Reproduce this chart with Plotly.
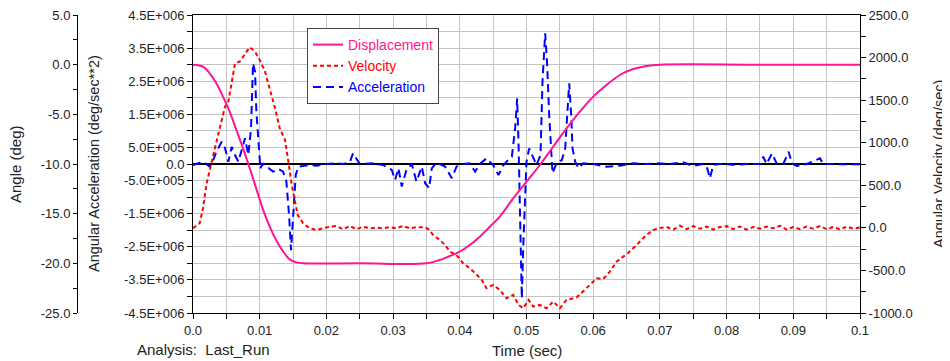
import plotly.graph_objects as go

# ---------------- data ----------------
disp_t = [0, 0.0015, 0.0025, 0.0035, 0.0045, 0.0055, 0.0065, 0.0075, 0.0083, 0.0095,
          0.0105, 0.0115, 0.0125, 0.0135, 0.0145, 0.0155, 0.0165, 0.025, 0.035, 0.037,
          0.0385, 0.04, 0.0415, 0.043, 0.0445, 0.046, 0.048, 0.05, 0.052, 0.054, 0.056,
          0.058, 0.06, 0.062, 0.064, 0.066, 0.068, 0.07, 0.085, 0.1]
disp_v = [0, -0.2, -0.87, -1.88, -3.22, -4.73, -6.58, -8.42, -10.0, -12.5,
          -14.6, -16.3, -17.7, -18.8, -19.6, -19.9, -20.0, -20.0, -20.0, -19.66,
          -19.26, -18.83, -18.16, -17.32, -16.31, -15.3, -13.46, -11.78, -10.1, -8.26, -6.41,
          -4.73, -3.22, -2.05, -1.04, -0.44, -0.13, 0.0, 0.0, 0.0]

vel_t = [0, 0.001, 0.0015, 0.002, 0.0028, 0.0035, 0.0043, 0.0048, 0.0053, 0.0058,
         0.0063, 0.007, 0.0078, 0.0085, 0.0093, 0.01, 0.0108, 0.0115, 0.0123, 0.013,
         0.0138, 0.0143, 0.0148, 0.0153, 0.0157, 0.0165, 0.0175, 0.0185, 0.0195, 0.0205,
         0.0215, 0.0225, 0.0235, 0.0245, 0.0255, 0.0265, 0.0275, 0.0285, 0.0295, 0.0305,
         0.0315, 0.0325, 0.0335, 0.0348, 0.0353, 0.036, 0.037, 0.0378, 0.0385, 0.0395,
         0.0405, 0.0415, 0.0423, 0.0433, 0.044, 0.045, 0.046, 0.047, 0.048, 0.0488,
         0.0495, 0.0503, 0.051, 0.052, 0.053, 0.054, 0.055, 0.056, 0.0575, 0.0585,
         0.0595, 0.0605, 0.0615, 0.0625, 0.0635, 0.0645, 0.0652, 0.0665, 0.068, 0.069,
         0.07, 0.071, 0.072, 0.073, 0.074, 0.075, 0.076, 0.077, 0.078, 0.079,
         0.08, 0.081, 0.082, 0.083, 0.084, 0.085, 0.086, 0.087, 0.088, 0.089,
         0.09, 0.091, 0.092, 0.093, 0.094, 0.095, 0.096, 0.097, 0.098, 0.099, 0.1]
vel_v = [-5, 54, 230, 504, 778, 1012, 1287, 1424, 1482, 1717,
         1933, 1952, 2050, 2121, 2070, 1972, 1835, 1640, 1405, 1170,
         1032, 778, 504, 308, 151, 54, -5, -25, -5, 14,
         22, -17, 22, -17, 14, -5, 2, -5, 8, -5,
         22, -5, 8, 8, -17, -83, -142, -201, -279, -318,
         -416, -474, -533, -612, -709, -670, -729, -827, -788, -905,
         -944, -846, -925, -905, -944, -866, -944, -846, -819, -749,
         -670, -592, -600, -514, -397, -338, -298, -201, -83, -25,
         0, 10, -20, 25, -15, 20, -10, 15, -20, 10,
         20, -15, 15, -20, 10, -10, 15, -5, 25, -20,
         10, -15, 15, -10, 20, -15, 10, -20, 15, -10, 5]

acc_t = [0, 0.0008, 0.0015, 0.002, 0.0025, 0.003, 0.0035, 0.0043, 0.0048, 0.0053,
         0.0058, 0.0063, 0.0068, 0.0073, 0.0078, 0.0083, 0.0087, 0.009, 0.0093, 0.0095,
         0.0099, 0.0101, 0.0105, 0.0108, 0.0113, 0.012, 0.0128, 0.0135, 0.014, 0.0144,
         0.0147, 0.015, 0.0154, 0.0158, 0.0165, 0.0175, 0.0185, 0.02, 0.0215, 0.0225,
         0.0235, 0.024, 0.025, 0.027, 0.0285, 0.0298, 0.0303, 0.0308, 0.0313, 0.032,
         0.0328, 0.0335, 0.0343, 0.0348, 0.0354, 0.0358, 0.0365, 0.0378, 0.0388, 0.0395,
         0.0405, 0.0415, 0.0423, 0.043, 0.044, 0.045, 0.0458, 0.0465, 0.047, 0.0478,
         0.0483, 0.0486, 0.0488, 0.049, 0.0493, 0.0495, 0.0498, 0.05, 0.0504, 0.051,
         0.0515, 0.0521, 0.0524, 0.0528, 0.0531, 0.0534, 0.0537, 0.0539, 0.0545, 0.0553,
         0.0558, 0.0562, 0.0564, 0.0567, 0.0569, 0.0573, 0.0578, 0.0585, 0.06, 0.062,
         0.064, 0.066, 0.068, 0.0695, 0.0715, 0.0735, 0.075, 0.0765, 0.0771, 0.0775,
         0.078, 0.079, 0.081, 0.0835, 0.085, 0.0855, 0.086, 0.0868, 0.0875, 0.0885,
         0.0893, 0.0898, 0.0905, 0.092, 0.094, 0.0945, 0.0965, 0.0985, 0.1]
acc_v_e6 = [-0.03, 0.02, 0.07, 0.0, -0.08, 0.1, 0.37, 0.67, 0.48, 0.07,
            0.52, 0.27, 0.07, 0.42, 0.78, 0.27, 1.08, 3.04, 2.79, 1.58,
            0.57, -0.13, 0.02, -0.08, -0.12, -0.23, -0.15, -0.23, -0.53, -1.54,
            -2.6, -1.54, -0.33, -0.08, -0.05, -0.03, -0.05, 0.0, 0.02, 0.0,
            0.05, 0.32, 0.0, 0.02, -0.03, -0.18, -0.48, -0.13, -0.68, -0.18,
            0.0, -0.53, -0.08, -0.58, -0.73, -0.13, 0.04, -0.08, -0.43, -0.08,
            0.0, 0.02, -0.23, 0.0, 0.17, -0.03, -0.33, -0.05, 0.07, 0.22,
            1.08, 1.98, 0.67, -1.54, -4.06, -2.55, -1.03, 0.07, 0.47, 0.17,
            -0.03, 0.27, 2.49, 3.95, 2.99, 1.48, 0.27, -0.28, 0.02, 0.12,
            0.47, 1.88, 2.44, 1.48, 0.47, 0.07, -0.13, 0.02, 0.0, -0.08,
            -0.05, 0.02, 0.0, 0.02, 0.0, 0.05, -0.06, 0.0, -0.13, -0.43,
            -0.03, 0.0, -0.02, 0.0, 0.0, 0.22, 0.0, 0.32, 0.02, 0.0,
            0.37, 0.02, -0.06, 0.0, 0.17, 0.0, -0.01, 0.0, -0.01]
acc_v = [v * 1e6 for v in acc_v_e6]

x_tickvals = [i * 0.005 for i in range(21)]
x_ticktext = ["0.0", "", "0.01", "", "0.02", "", "0.03", "", "0.04", "", "0.05", "",
              "0.06", "", "0.07", "", "0.08", "", "0.09", "", "0.1"]

acc_tickvals = [(-4.5 + 0.5 * i) * 1e6 for i in range(19)]
acc_labels = {4.5: "4.5E+006", 3.5: "3.5E+006", 2.5: "2.5E+006", 1.5: "1.5E+006",
              0.5: "5.0E+005", 0.0: "0.0", -0.5: "-5.0E+005", -1.5: "-1.5E+006",
              -2.5: "-2.5E+006", -3.5: "-3.5E+006", -4.5: "-4.5E+006"}
acc_ticktext = [acc_labels.get(round(v / 1e6, 1), "") for v in acc_tickvals]

ang_tickvals = [-25 + 2.5 * i for i in range(13)]
ang_ticktext = [f"{v:.1f}" if i % 2 == 0 else "" for i, v in enumerate(ang_tickvals)]

vel_tickvals = [-1000 + 250 * i for i in range(15)]
vel_ticktext = [f"{v:.1f}" if i % 2 == 0 else "" for i, v in enumerate(vel_tickvals)]

PINK = "#ff1493"
RED = "#ff0000"
BLUE = "#0000ff"
GRID = "#c4c4c4"
TXT = "#222222"
FONT = "Liberation Sans, Arial, sans-serif"

fig = go.Figure()
fig.add_trace(go.Scatter(x=disp_t, y=disp_v, yaxis="y3", mode="lines", line_shape="spline",
                         name=f"<span style='color:{PINK}'>Displacement</span>",
                         line=dict(color=PINK, width=2)))
fig.add_trace(go.Scatter(x=vel_t, y=vel_v, yaxis="y2", mode="lines",
                         name=f"<span style='color:{RED}'>Velocity</span>",
                         line=dict(color=RED, width=2, dash="4px,3px")))
fig.add_trace(go.Scatter(x=acc_t, y=acc_v, yaxis="y", mode="lines",
                         name=f"<span style='color:{BLUE}'>Acceleration</span>",
                         line=dict(color=BLUE, width=2, dash="8px,5px")))

# The page body adds an 8px offset, so the figure is 8px smaller than the window
OFF = 8
W, H = 950 - OFF, 361 - OFF
PL, PR, PT, PB = 193, 860, 15, 313          # plot area in window pixels
ml, mr = 0, 0
mt, mb = PT - OFF, H - (PB - OFF)
pw = W - ml - mr
ph = H - mt - mb


def px2x(px):
    return (px - OFF - ml) / pw


def px2y(py):
    return (PB - py) / ph


tickfont = dict(family=FONT, size=13, color=TXT)
titlefont = dict(family=FONT, size=15, color=TXT)
common = dict(automargin=False, ticklabeloverflow="allow", tickfont=tickfont,
              ticks="outside", tickcolor="black", showline=True,
              linecolor="black", linewidth=1)

fig.update_layout(
    template="none",
    width=W, height=H,
    margin=dict(l=ml, r=mr, t=mt, b=mb, autoexpand=False),
    paper_bgcolor="white", plot_bgcolor="white",
    font=dict(family=FONT, size=12, color=TXT),
    showlegend=True,
    legend=dict(x=px2x(307), y=px2y(28), xanchor="left", yanchor="top",
                bordercolor="#444444", borderwidth=1, bgcolor="white",
                font=dict(family=FONT, size=14), tracegroupgap=0),
    xaxis=dict(domain=[px2x(PL), px2x(PR)], range=[0, 0.1],
               tickvals=x_tickvals, ticktext=x_ticktext, ticklen=5,
               showgrid=True, gridcolor=GRID, gridwidth=1, mirror=True,
               zeroline=False, **common),
    yaxis=dict(domain=[0, 1], range=[-4.5e6, 4.5e6],
               tickvals=acc_tickvals, ticktext=acc_ticktext, ticklen=5,
               showgrid=True, gridcolor=GRID, gridwidth=1,
               zeroline=True, zerolinecolor="black", zerolinewidth=1.5, **common),
    yaxis2=dict(range=[-1000, 2500], overlaying="y", side="right", anchor="x",
                tickvals=vel_tickvals, ticktext=vel_ticktext, ticklen=5,
                showgrid=False, zeroline=False, **common),
    yaxis3=dict(range=[-25, 5], overlaying="y", side="left", anchor="free",
                position=px2x(77),
                tickvals=ang_tickvals, ticktext=ang_ticktext, ticklen=4,
                showgrid=False, zeroline=False, **common),
    annotations=[
        dict(text="Angle (deg)", x=px2x(15), y=px2y(164), xref="paper", yref="paper",
             xanchor="center", yanchor="middle",
             textangle=-90, showarrow=False, font=titlefont),
        dict(text="Angular Acceleration (deg/sec**2)", x=px2x(94), y=px2y(164),
             xref="paper", yref="paper", xanchor="center", yanchor="middle",
             textangle=-90, showarrow=False,
             font=dict(family=FONT, size=14.5, color=TXT)),
        dict(text="Angular Velocity (deg/sec)", x=px2x(939), y=px2y(164),
             xref="paper", yref="paper", xanchor="center", yanchor="middle",
             textangle=-90, showarrow=False,
             font=dict(family=FONT, size=14.5, color=TXT)),
        dict(text="Analysis:  Last_Run", x=px2x(135), y=px2y(349), xref="paper", yref="paper",
             xanchor="left", yanchor="middle", showarrow=False, font=titlefont),
        dict(text="Time (sec)", x=px2x(527), y=px2y(350), xref="paper", yref="paper",
             xanchor="center", yanchor="middle", showarrow=False, font=titlefont),
    ],
)

fig.write_html("out.html")
